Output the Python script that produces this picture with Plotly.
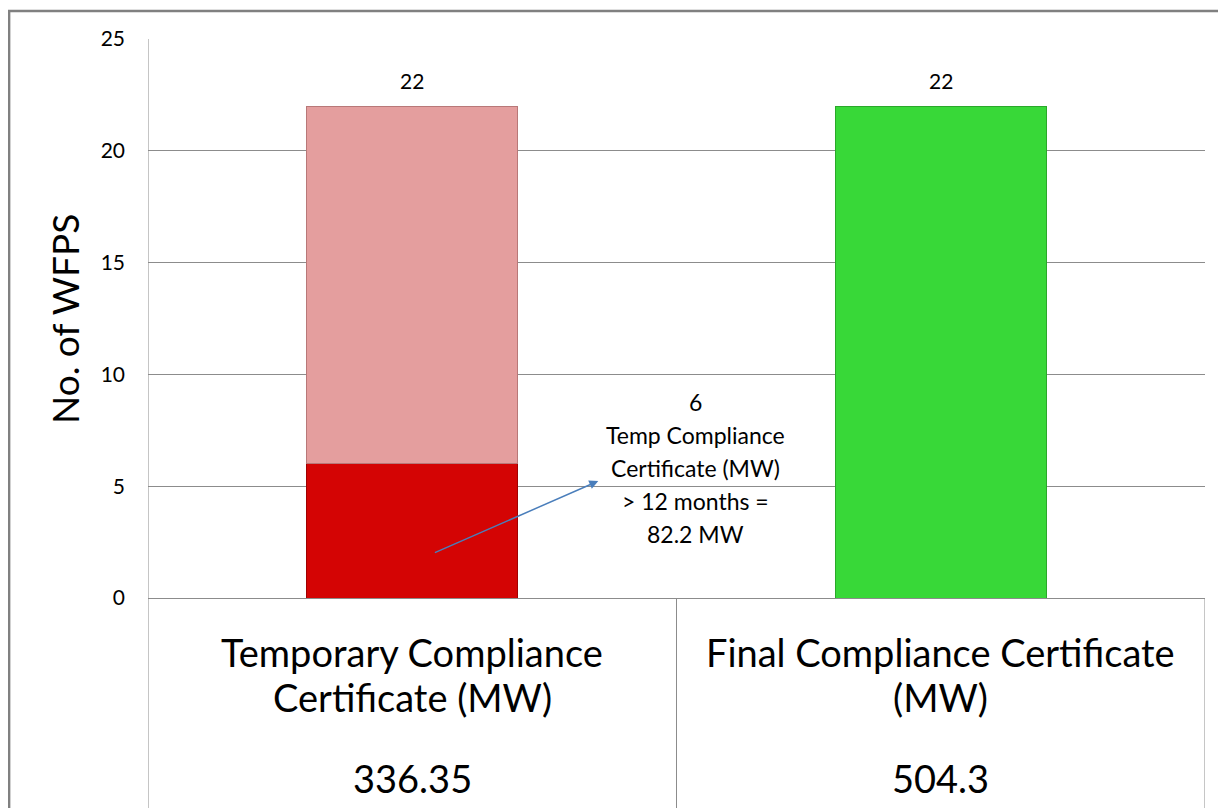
import plotly.graph_objects as go

categories = ["Temporary Compliance Certificate (MW)", "Final Compliance Certificate (MW)"]
cat_lines = [["Temporary Compliance", "Certificate (MW)"], ["Final Compliance Certificate", "(MW)"]]
mw_values = ["336.35", "504.3"]
over_12_months = [6, None]
temp_remainder = [16, None]
final_cert = [None, 22]
totals = [22, 22]
note_lines = ["6", "Temp Compliance", "Certificate (MW)", "> 12 months =", "82.2 MW"]
y_ticks = [0, 5, 10, 15, 20, 25]

FONT = "Lato"
x_idx = list(range(len(categories)))

fig = go.Figure()
fig.add_trace(go.Bar(x=x_idx, y=over_12_months, marker=dict(color="#D40404", line=dict(color="#A00000", width=1)),
                     width=0.4, name="> 12 months"))
fig.add_trace(go.Bar(x=x_idx, y=temp_remainder, marker=dict(color="#E49E9E", line=dict(color="#B87878", width=1)),
                     width=0.4, name="Temporary"))
fig.add_trace(go.Bar(x=x_idx, y=final_cert, marker=dict(color="#38D838", line=dict(color="#2AA82A", width=1)),
                     width=0.4, name="Final"))

annotations = []
for i, t in enumerate(totals):
    annotations.append(dict(x=i, y=t, xref="x", yref="y", text=str(t), showarrow=False,
                            yshift=26, font=dict(size=21, color="#000", family=FONT)))

# table below the chart
for i, lines in enumerate(cat_lines):
    for j, ln in enumerate(lines):
        annotations.append(dict(x=i, y=-0.0966 - j * 0.0805, xref="x", yref="paper", text=ln, showarrow=False,
                                font=dict(size=38, color="#000", family=FONT), yanchor="middle"))
    annotations.append(dict(x=i, y=-0.322, xref="x", yref="paper", text=mw_values[i], showarrow=False,
                            font=dict(size=38, color="#000", family=FONT), yanchor="middle"))

# callout arrow
annotations.append(dict(x=0.352, y=5.23, ax=0.04, ay=2.0, xref="x", yref="y", axref="x", ayref="y",
                        showarrow=True, arrowhead=2, arrowsize=1.2, arrowwidth=1.5, arrowcolor="#4A7EBB", text=""))
for j, ln in enumerate(note_lines):
    annotations.append(dict(x=0.536, y=8.76 - j * 1.475, xref="x", yref="y", text=ln, showarrow=False,
                            font=dict(size=23, color="#000", family=FONT), yanchor="middle"))

# y-axis title
annotations.append(dict(x=-0.079, y=0.5, xref="paper", yref="paper", text="No. of WFPS", textangle=-90,
                        xanchor="center", yanchor="middle",
                        showarrow=False, font=dict(size=37, color="#000", family=FONT)))

shapes = []
for xv in [-0.5, 0.5, 1.5]:
    shapes.append(dict(type="line", xref="x", yref="paper", x0=xv, x1=xv, y0=0, y1=-0.5,
                       line=dict(color="#8C8C8C", width=1)))
shapes.append(dict(type="line", xref="x", yref="paper", x0=-0.5, x1=-0.5, y0=0, y1=1,
                   line=dict(color="#8C8C8C", width=1)))
# outer frame
shapes.append(dict(type="rect", xref="paper", yref="paper", x0=-0.1314, x1=1.2, y0=-0.6, y1=1.0501,
                   line=dict(color="#808080", width=2.5), fillcolor="rgba(0,0,0,0)", layer="below"))

fig.update_layout(
    width=1226, height=808,
    margin=dict(l=140, r=29, t=31, b=218),
    barmode="stack", bargap=0.6, showlegend=False,
    plot_bgcolor="white", paper_bgcolor="white",
    font=dict(family=FONT, color="#000"),
    xaxis=dict(range=[-0.5, 1.5], showticklabels=False, showgrid=False, zeroline=False, fixedrange=True),
    yaxis=dict(range=[0, 25], tickvals=y_ticks, showgrid=True, gridcolor="#8C8C8C", gridwidth=1,
               zeroline=True, zerolinecolor="#8C8C8C", zerolinewidth=1,
               tickfont=dict(size=21, color="#000", family=FONT), ticks="", ticklabelstandoff=22),
    annotations=annotations, shapes=shapes,
)

fig.write_html("out.html")
